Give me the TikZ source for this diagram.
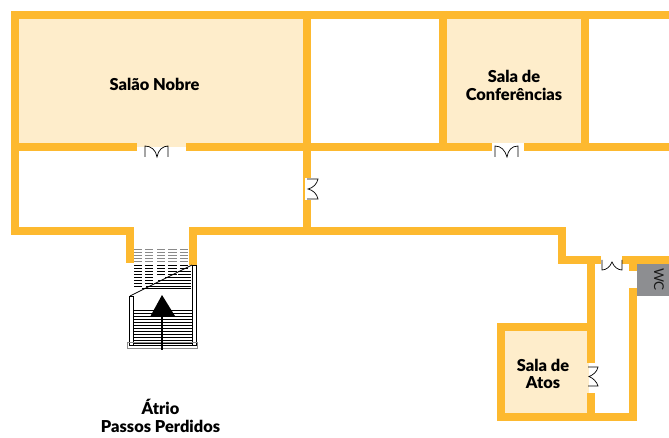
\documentclass[tikz,border=0pt]{standalone}
\usepackage{fontspec}
\setmainfont{Lato}
\newfontfamily\labelfont{Lato Black}
\definecolor{wall}{HTML}{FDB92F}
\definecolor{room}{HTML}{FEEDCB}
\definecolor{wcgray}{HTML}{8D8E91}
\definecolor{stepgray}{HTML}{8A8A8A}
\tikzset{
  wallline/.style={draw=wall,line width=8pt,line join=miter},
  roomfill/.style={fill=room,draw=none},
  doorline/.style={draw=black,line width=0.7pt},
  roomlabel/.style={font=\fontsize{16.4}{17.6}\labelfont\selectfont,align=center,text=black,inner sep=0pt},
  treadgray/.style={draw=stepgray,line width=0.9pt},
  treadblack/.style={draw=black,line width=0.7pt},
  rail/.style={draw=black,line width=0.6pt,fill=white},
}
\begin{document}
\begin{tikzpicture}[x=1pt,y=-1pt]
\useasboundingbox (0,0) rectangle (669,438);
% room fills
\fill[roomfill] (19,19) rectangle (303,147);
\fill[roomfill] (447,19) rectangle (581,143);
\fill[roomfill] (505,331) rectangle (587,413);
\fill[wcgray] (637,264) rectangle (669,296);
% walls
\draw[wallline] (669,15) -- (15,15) -- (15,231) -- (130,231) -- (130,263);
\draw[wallline] (193,265) -- (193,231) -- (562,231) -- (562,260) -- (601,260);
\draw[wallline] (622,260) -- (669,260);
\draw[wallline] (307,11) -- (307,235);
\draw[wallline] (443,11) -- (443,147);
\draw[wallline] (585,11) -- (585,147);
\draw[wallline] (15,147) -- (137,147);
\draw[wallline] (186,147) -- (492,147);
\draw[wallline] (524,147) -- (669,147);
\draw[wallline] (591,260) -- (591,363);
\draw[wallline] (591,393) -- (591,417);
\draw[wallline] (633,260) -- (633,271);
\draw[wallline] (633,288) -- (633,417) -- (501,417) -- (501,327) -- (591,327);
% door gaps
\fill[white] (305,178) rectangle (311.2,200);
\fill[room] (587,363) rectangle (589,393);
% doors
\draw[doorline] (145,157) -- (145,146) .. controls (151,146) and (156,150) .. (157,157) .. controls (158,150) and (163,146) .. (168,146) -- (168,157);
\draw[doorline] (495,157) -- (495,146) .. controls (501,146) and (505,150) .. (507,157) .. controls (508,150) and (512,146) .. (518,146) -- (518,157);
\draw[doorline] (602,260) -- (602,270) .. controls (606,270) and (610,267) .. (612,262) .. controls (614,267) and (618,270) .. (622,270) -- (622,260);
\draw[doorline] (307,179) -- (318,179) .. controls (317,184) and (313,188) .. (308,189) .. controls (313,190) and (317,194) .. (318,199) -- (307,199);
\draw[doorline] (588,367) -- (598,367) .. controls (597,372) and (593,375) .. (589,376.5) .. controls (593,378) and (597,382) .. (598,386) -- (588,386);
% stairs: upper treads
\foreach \yy in {249.5,252.5,255.5,258.5,261.5}{
  \foreach \xa/\xb in {134/142,145/153,157/165,168/177,180/188}{
    \draw[treadgray] (\xa,\yy) -- (\xb,\yy);
  }
}
\foreach \yy in {265,268}{
  \foreach \xa/\xb in {134/142,145/153,157/165,168/177,180/188}{
    \draw[treadblack] (\xa,\yy) -- (\xb,\yy);
  }
}
\foreach \yy in {271,274}{
  \foreach \xa/\xb in {134/142,145/153,157/165,168/177}{
    \draw[treadblack] (\xa,\yy) -- (\xb,\yy);
  }
}
\foreach \yy in {277,280,283}{
  \foreach \xa/\xb in {134/142,145/153}{
    \draw[treadblack] (\xa,\yy) -- (\xb,\yy);
  }
}
\draw[treadblack] (134,286) -- (142,286);
% treads below the diagonal
\foreach \yy/\xs in {277/165,280/158,283/154,286/146,288.5/142}{
  \draw[treadblack] (\xs,\yy) -- (191,\yy);
}
\foreach \yy in {271,274}{
  \draw[treadblack] (178,\yy) -- (191,\yy);
}
\foreach \yy in {310,313,...,343}{
  \draw[treadblack] (134,\yy) -- (192,\yy);
}
\draw[treadblack] (130,296) -- (192,265);
% rails and base
\draw[rail] (129.5,296) rectangle (133.5,345);
\draw[rail] (192,265) rectangle (196,345);
\draw[draw=stepgray,line width=1pt] (127.5,342.5) rectangle (197.5,348.5);
\draw[treadblack] (134,345) -- (192,345);
% arrow
\fill[black] (162,295) -- (175,316) -- (150.5,316) -- cycle;
\draw[black,line width=2pt] (162,314) -- (162,349.5);
% labels
\node[roomlabel] (nobre) at (154.5,84.5) {Salão Nobre};
\node[roomlabel] (conf) at (514,85.5) {Sala de\\Conferências};
\node[roomlabel] (atos) at (543,374) {Sala de\\Atos};
\node[roomlabel] (atrio) at (160.5,416) {Átrio\\Passos Perdidos};
\node[font=\fontsize{13.5}{15}\selectfont,text=black!90,rotate=-90,inner sep=0pt] (wc) at (659,279.5) {WC};
\end{tikzpicture}
\end{document}
